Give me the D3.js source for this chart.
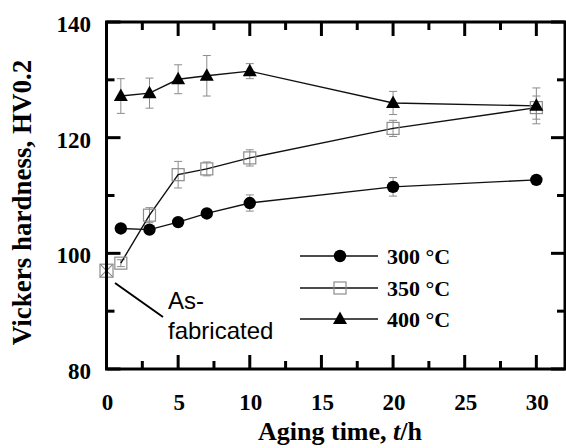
<!DOCTYPE html>
<html>
<head>
<meta charset="utf-8">
<script src="https://cdn.jsdelivr.net/npm/d3@7"></script>
<style>
  html, body { margin: 0; padding: 0; background: #fff; }
  svg { display: block; }
  .serif { font-family: "Liberation Serif", "Times New Roman", Times, "DejaVu Serif", serif; }
  .sans { font-family: "Liberation Sans", Arial, Helvetica, sans-serif; }
</style>
</head>
<body>
<svg id="chart" width="566" height="448"></svg>
<script>
// Aging times (h) and Vickers hardness for each aging temperature
const times = [1, 3, 5, 7, 10, 20, 30];
const hv300 = [104.3, 104.1, 105.4, 106.9, 108.7, 111.5, 112.7];
const err300 = [0.3, 0.6, 0.5, 0.4, 1.4, 1.6, 0.4];
const hv350 = [98.3, 106.6, 113.6, 114.6, 116.5, 121.6, 125.2];
const err350 = [0.6, 1.3, 2.3, 1.2, 1.4, 1.4, 2.0];
const hv400 = [127.2, 127.7, 130.1, 130.7, 131.5, 126.0, 125.5];
const err400 = [3.0, 2.6, 2.5, 3.5, 1.3, 2.0, 3.1];
const asFabricated = { t: 0, hv: 97.0 };

const xTicks = [0, 5, 10, 15, 20, 25, 30];
const yTicks = [80, 100, 120, 140];
const seriesNames = ["300 °C", "350 °C", "400 °C"];

const svg = d3.select("#chart");
const L = 106.5, R = 565, T = 22, B = 369;

const x = d3.scaleLinear().domain([0, 32]).range([L, R]);
const y = d3.scaleLinear().domain([80, 140]).range([B, T]);

const series = [
  { name: seriesNames[0], vals: hv300, errs: err300, shape: "circle" },
  { name: seriesNames[1], vals: hv350, errs: err350, shape: "square" },
  { name: seriesNames[2], vals: hv400, errs: err400, shape: "triangle" }
];

const plot = svg.append("g");

// error bars first, markers drawn on top
series.forEach(s => {
  const pts = times.map((t, i) => ({ t, v: s.vals[i], e: s.errs[i] }));
  const eb = plot.append("g").attr("stroke", "#8c8c8c").attr("stroke-width", 1).attr("fill", "none");
  pts.forEach(p => {
    const cx = x(p.t);
    eb.append("line").attr("x1", cx).attr("x2", cx).attr("y1", y(p.v - p.e)).attr("y2", y(p.v + p.e));
    eb.append("line").attr("x1", cx - 4).attr("x2", cx + 4).attr("y1", y(p.v - p.e)).attr("y2", y(p.v - p.e));
    eb.append("line").attr("x1", cx - 4).attr("x2", cx + 4).attr("y1", y(p.v + p.e)).attr("y2", y(p.v + p.e));
  });
});

const line = d3.line().x(d => x(d.t)).y(d => y(d.v));
series.forEach(s => {
  const pts = times.map((t, i) => ({ t, v: s.vals[i] }));
  plot.append("path").datum(pts).attr("d", line)
    .attr("fill", "none").attr("stroke", "#111").attr("stroke-width", 1.4);
});

function marker(g, shape, cx, cy) {
  if (shape === "circle") {
    g.append("circle").attr("cx", cx).attr("cy", cy).attr("r", 6.2).attr("fill", "#000");
  } else if (shape === "square") {
    g.append("rect").attr("x", cx - 6).attr("y", cy - 6).attr("width", 12).attr("height", 12)
      .attr("fill", "none").attr("stroke", "#8c8c8c").attr("stroke-width", 1.2);
  } else {
    g.append("path").attr("d", `M${cx},${cy - 7.5}L${cx + 7},${cy + 5}L${cx - 7},${cy + 5}Z`).attr("fill", "#000");
  }
}

series.forEach(s => {
  times.forEach((t, i) => marker(plot, s.shape, x(t), y(s.vals[i])));
});

// as-fabricated reference point: crossed square
{
  const cx = x(asFabricated.t), cy = y(asFabricated.hv);
  const g = plot.append("g").attr("stroke", "#8c8c8c").attr("stroke-width", 1.2).attr("fill", "#fff");
  g.append("rect").attr("x", cx - 6.5).attr("y", cy - 6.5).attr("width", 13).attr("height", 13);
  g.append("line").attr("x1", cx - 6.5).attr("y1", cy - 6.5).attr("x2", cx + 6.5).attr("y2", cy + 6.5);
  g.append("line").attr("x1", cx + 6.5).attr("y1", cy - 6.5).attr("x2", cx - 6.5).attr("y2", cy + 6.5);
}

// annotation
svg.append("line").attr("x1", 115).attr("y1", 283).attr("x2", 163).attr("y2", 317)
  .attr("stroke", "#000").attr("stroke-width", 2);
svg.append("text").attr("class", "sans").attr("x", 168).attr("y", 309).attr("font-size", 24).text("As-");
svg.append("text").attr("class", "sans").attr("x", 168).attr("y", 339).attr("font-size", 24).text("fabricated");

// legend
const legY = [256, 288, 319];
series.forEach((s, i) => {
  const g = svg.append("g");
  g.append("line").attr("x1", 300).attr("x2", 378).attr("y1", legY[i]).attr("y2", legY[i])
    .attr("stroke", "#111").attr("stroke-width", 1.4);
  marker(g, s.shape, 340, legY[i]);
  g.append("text").attr("class", "serif").attr("x", 387).attr("y", legY[i] + 8)
    .attr("font-weight", "bold").attr("font-size", 22).text(s.name);
});

// frame and inward ticks
const axG = svg.append("g").attr("stroke", "#000").attr("stroke-width", 3).attr("fill", "none");
axG.append("rect").attr("x", L).attr("y", T).attr("width", R - L).attr("height", B - T);

const xMinor = d3.range(2.5, 32, 5);
const yMinor = d3.range(90, 140, 20);
const major = 14, minor = 8;
xTicks.forEach(t => {
  axG.append("line").attr("x1", x(t)).attr("x2", x(t)).attr("y1", B).attr("y2", B - major);
  axG.append("line").attr("x1", x(t)).attr("x2", x(t)).attr("y1", T).attr("y2", T + major);
});
xMinor.forEach(t => {
  axG.append("line").attr("x1", x(t)).attr("x2", x(t)).attr("y1", B).attr("y2", B - minor);
  axG.append("line").attr("x1", x(t)).attr("x2", x(t)).attr("y1", T).attr("y2", T + minor);
});
yTicks.forEach(v => {
  axG.append("line").attr("x1", L).attr("x2", L + major).attr("y1", y(v)).attr("y2", y(v));
  axG.append("line").attr("x1", R).attr("x2", R - major).attr("y1", y(v)).attr("y2", y(v));
});
yMinor.forEach(v => {
  axG.append("line").attr("x1", L).attr("x2", L + minor).attr("y1", y(v)).attr("y2", y(v));
  axG.append("line").attr("x1", R).attr("x2", R - minor).attr("y1", y(v)).attr("y2", y(v));
});

// tick labels
xTicks.forEach(t => {
  svg.append("text").attr("class", "serif").attr("x", x(t) + 1).attr("y", 410).attr("text-anchor", "middle")
    .attr("font-weight", "bold").attr("font-size", 23).text(t);
});
yTicks.forEach(v => {
  svg.append("text").attr("class", "serif").attr("x", 91).attr("y", y(v) + 10).attr("text-anchor", "end")
    .attr("font-weight", "bold").attr("font-size", 23).text(v);
});

// axis titles
const xt = svg.append("text").attr("class", "serif").attr("x", 340).attr("y", 440).attr("text-anchor", "middle")
  .attr("font-weight", "bold").attr("font-size", 26);
xt.append("tspan").text("Aging time, ");
xt.append("tspan").attr("font-style", "italic").text("t");
xt.append("tspan").text("/h");

svg.append("text").attr("class", "serif").attr("transform", `translate(31,${(52 + 353) / 2}) rotate(-90)`)
  .attr("text-anchor", "middle").attr("font-weight", "bold")
  .attr("font-size", 27).text("Vickers hardness, HV0.2");
</script>
</body>
</html>
